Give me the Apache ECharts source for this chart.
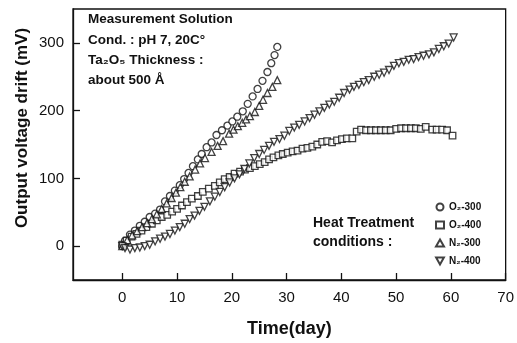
<!DOCTYPE html>
<html>
<head>
<meta charset="utf-8">
<script src="https://cdn.jsdelivr.net/npm/echarts@6/dist/echarts.min.js"></script>
<style>html,body{margin:0;padding:0;background:#fff;}#c{width:517px;height:343px;}</style>
</head>
<body>
<div id="c"></div>
<script>
// [day, mV] pairs
var o2_300 = [[0,0],[0.5,8],[1.4,17],[2.3,23],[3.2,30],[4.1,36],[5,43],[6,48],[6.9,54],[7.8,66],[8.7,74],[9.6,82],[10.5,90],[11.3,99],[12.1,108],[12.9,118],[13.8,128],[14.5,136],[15.4,146],[16.3,153],[17.2,164],[18.2,171],[19.2,178],[20.1,184],[21,191],[22,199],[22.9,210],[23.8,221],[24.7,232],[25.6,244],[26.5,257],[27.2,270],[27.8,282],[28.3,294]];
var o2_400 = [[0,2],[0.8,8],[1.7,14],[2.6,18],[3.5,23],[4.4,28],[5.4,33],[6.3,38],[7.2,43],[8.2,46],[9.1,51],[10,55],[10.9,60],[11.8,65],[12.7,70],[13.8,74],[14.7,80],[15.8,85],[16.9,89],[17.8,94],[18.7,99],[19.6,102],[20.5,107],[21.5,110],[22.4,113],[23.3,115],[24.2,118],[25.1,121],[26,124],[26.8,128],[27.6,131],[28.5,134],[29.3,136],[30.2,138],[31.1,140],[32,141],[32.9,144],[33.8,145],[34.7,147],[35.6,150],[36.5,154],[37.4,155],[38.3,153],[39.2,156],[40.1,158],[41,159],[42,159],[42.8,169],[43.6,172],[44.5,171],[45.4,171],[46.3,171],[47.2,171],[48.1,171],[49,171],[50,173],[50.9,174],[51.8,174],[52.7,174],[53.6,174],[54.5,173],[55.4,176],[56.6,172],[57.4,172],[58.4,172],[59.3,171],[60.3,163]];
var n2_300 = [[0,0],[0.9,9],[1.8,16],[2.7,22],[3.6,28],[4.5,34],[5.4,40],[6.3,47],[7.2,55],[8.1,63],[9,71],[9.8,79],[10.6,87],[11.4,95],[12.3,103],[13.3,113],[14.2,122],[15.1,130],[16.3,139],[17.4,148],[18.4,155],[19.5,166],[20.3,172],[21.1,177],[21.9,182],[22.6,187],[23.3,192],[24.2,198],[25,207],[25.7,216],[26.5,226],[27.4,235],[28.3,245]];
var n2_400 = [[0,0],[0.5,-3],[1.4,-5],[2.3,-3],[3.2,-2],[4.1,0],[5,2],[6,7],[6.9,11],[7.8,14],[8.7,18],[9.6,23],[10.5,28],[11.4,33],[12.3,40],[13.2,45],[14.1,52],[15,58],[16,66],[16.9,73],[17.8,80],[18.7,87],[19.6,94],[20.5,100],[21.4,106],[22.3,114],[23.2,122],[24.1,130],[25,136],[25.9,142],[26.8,148],[27.7,154],[28.7,158],[29.6,163],[30.5,170],[31.4,175],[32.3,179],[33.3,184],[34.2,189],[35.1,194],[36,199],[36.9,204],[37.8,209],[38.7,213],[39.6,219],[40.5,226],[41.5,231],[42.3,235],[43.2,238],[44.1,242],[45,245],[46,250],[46.9,253],[47.8,256],[48.7,260],[49.6,266],[50.5,270],[51.4,272],[52.3,275],[53.2,276],[54.1,279],[55,281],[56,283],[56.9,286],[57.8,291],[58.7,295],[59.6,299],[60.5,308]];
var seriesNames = ['O\u2082-300','O\u2082-400','N\u2082-300','N\u2082-400'];
var xTicks = [0,10,20,30,40,50,60,70];
var yTicks = [0,100,200,300];

var chart = echarts.init(document.getElementById('c'), null, {renderer:'canvas'});
var FONT = 'Liberation Sans, Arial, sans-serif';
var DOWN_TRI = 'path://M0,0L10,0L5,9Z';
function sc(name, data, symbol, size, rot){
  return {type:'scatter', name:name, data:data, symbol:symbol, symbolSize:size, symbolRotate:rot||0,
    itemStyle:{color:'#fff', borderColor:'#111', borderWidth:1.3}, silent:true, animation:false};
}
chart.setOption({
  animation:false,
  backgroundColor:'#fff',
  grid:{left:73, right:9, top:9, bottom:61, show:true, borderColor:'#111', borderWidth:1.3, backgroundColor:'transparent'},
  xAxis:{type:'value', min:-9, max:70,
    name:'Time(day)', nameLocation:'middle', nameGap:40,
    nameTextStyle:{fontFamily:FONT, fontSize:18, fontWeight:'bold', color:'#111'},
    axisLine:{onZero:false, lineStyle:{color:'#111', width:1.3}},
    axisTick:{inside:true, length:7, customValues:xTicks, lineStyle:{color:'#111', width:1.3}},
    axisLabel:{customValues:xTicks, margin:10, fontFamily:FONT, fontSize:15, color:'#111'},
    splitLine:{show:false}},
  yAxis:{type:'value', min:-50, max:350,
    axisLine:{onZero:false, lineStyle:{color:'#111', width:1.3}},
    axisTick:{inside:true, length:7, customValues:yTicks, lineStyle:{color:'#111', width:1.3}},
    axisLabel:{customValues:yTicks, margin:9, fontFamily:FONT, fontSize:15, color:'#111'},
    splitLine:{show:false}},
  legend:{orient:'vertical', left:430, top:197, itemWidth:8, itemHeight:7, itemGap:8,
    textStyle:{fontFamily:FONT, fontSize:10, fontWeight:'bold', color:'#111'},
    data:[{name:seriesNames[0]},{name:seriesNames[1]},{name:seriesNames[2]},{name:seriesNames[3], icon:DOWN_TRI}]},
  graphic:[
    {type:'text', x:22, y:128, rotation:Math.PI/2, style:{text:'Output voltage drift (mV)', font:'bold 17px '+FONT, fill:'#111', textAlign:'center', textVerticalAlign:'middle'}},
    {type:'text', x:88, y:19, style:{text:'Measurement Solution', font:'bold 13.5px '+FONT, fill:'#111', textVerticalAlign:'middle'}},
    {type:'text', x:88, y:40, style:{text:'Cond. : pH 7, 20C\u00b0', font:'bold 13.5px '+FONT, fill:'#111', textVerticalAlign:'middle'}},
    {type:'text', x:88, y:60, style:{text:'Ta\u2082O\u2085 Thickness :', font:'bold 13.5px '+FONT, fill:'#111', textVerticalAlign:'middle'}},
    {type:'text', x:88, y:80, style:{text:'about 500 \u00c5', font:'bold 13.5px '+FONT, fill:'#111', textVerticalAlign:'middle'}},
    {type:'text', x:313, y:223, style:{text:'Heat Treatment', font:'bold 14px '+FONT, fill:'#111', textVerticalAlign:'middle'}},
    {type:'text', x:313, y:242, style:{text:'conditions :', font:'bold 14px '+FONT, fill:'#111', textVerticalAlign:'middle'}}
  ],
  series:[
    sc(seriesNames[0], o2_300, 'circle', 7),
    sc(seriesNames[1], o2_400, 'rect', 6.5),
    sc(seriesNames[2], n2_300, 'triangle', 7),
    sc(seriesNames[3], n2_400, 'triangle', 7, 180)
  ]
});
</script>
</body>
</html>
